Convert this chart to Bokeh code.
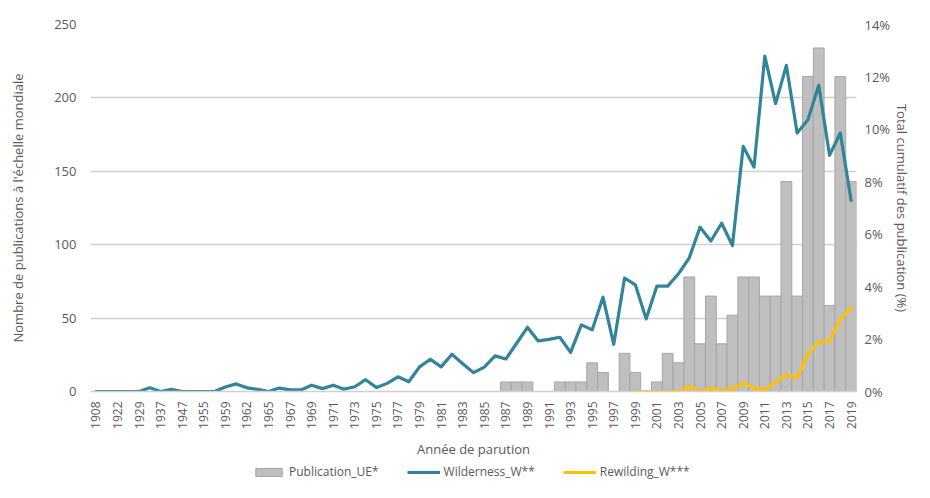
import math
from bokeh.plotting import figure
from bokeh.layouts import column
from bokeh.models import (Range1d, LinearAxis, FixedTicker, Legend, LegendItem,
                          PrintfTickFormatter)
from bokeh.embed import file_html
from bokeh.resources import INLINE

# ---------------- data ----------------
years = [1908, 1915, 1922, 1926, 1929, 1933, 1937, 1942, 1947, 1951,
         1955, 1957, 1959, 1960, 1962, 1964, 1965, 1966] + list(range(1967, 2020))

publication_ue = [0] * 38 + [
    6.5, 6.5, 6.5, 0, 0, 6.5, 6.5, 6.5, 19.5, 13,      # 1987-1996
    0, 26, 13, 0, 6.5, 26, 19.5, 78, 32.5, 65,         # 1997-2006
    32.5, 52, 78, 78, 65, 65, 143, 65, 214.5, 234,     # 2007-2016
    58.5, 214.5, 143]                                  # 2017-2019

wilderness_w = [
    0, 0, 0, 0, 0, 0.14, 0.0, 0.08, 0, 0,
    0, 0, 0.17, 0.29, 0.14, 0.08, 0.0, 0.13, 0.06, 0.06,
    0.24, 0.11, 0.24, 0.09, 0.18, 0.45, 0.15, 0.31, 0.56, 0.37,
    0.94, 1.23, 0.94, 1.42, 1.06, 0.72, 0.93, 1.36, 1.24, 1.84,
    2.45, 1.93, 1.99, 2.07, 1.49, 2.54, 2.35, 3.60, 1.80, 4.33,
    4.07, 2.77, 4.02, 4.02, 4.49, 5.10, 6.27, 5.74, 6.42, 5.57,
    9.35, 8.56, 12.79, 10.98, 12.44, 9.86, 10.37, 11.68, 9.01, 9.86,
    7.29]

nan = float("nan")
rewilding_w = [nan] * 50 + [
    0, 0, 0, 0, 0, 0.19, 0, 0.13, 0.03, 0.10,
    0.32, 0.13, 0.06, 0.36, 0.64, 0.52, 1.44, 1.88, 1.92, 2.77,
    3.19]

left_ticks = [0, 50, 100, 150, 200, 250]
right_ticks = [0, 2, 4, 6, 8, 10, 12, 14]
series_names = ["Publication_UE*", "Wilderness_W**", "Rewilding_W***"]

# ---------------- style ----------------
FONT = "Open Sans"
TXT = "#595959"
BAR_FILL, BAR_LINE = "#bfbfbf", "#a6a6a6"
BLUE, GOLD = "#31849b", "#ffc000"

idx = list(range(len(years)))

p = figure(width=914, height=462, output_backend="svg", toolbar_location=None,
           x_range=Range1d(-0.5, len(years) - 0.5), y_range=Range1d(0, 250),
           min_border_left=90, min_border_right=48, min_border_top=24,
           min_border_bottom=71)
p.outline_line_color = None
p.extra_y_ranges = {"pct": Range1d(0, 14)}

bar_x = [i for i, v in zip(idx, publication_ue) if v > 0]
bar_top = [v for v in publication_ue if v > 0]
p.vbar(x=bar_x, top=bar_top, width=1.0, bottom=0,
       fill_color=BAR_FILL, line_color=BAR_LINE, line_width=1)
p.line(idx, wilderness_w, y_range_name="pct", line_color=BLUE,
       line_width=3.2, line_join="round", line_cap="round")
p.line(idx, rewilding_w, y_range_name="pct", line_color=GOLD,
       line_width=3.2, line_join="round", line_cap="round")

# grid
p.xgrid.visible = False
p.ygrid.ticker = FixedTicker(ticks=left_ticks[1:])
p.ygrid.grid_line_color = "#d0d0d0"
p.ygrid.grid_line_width = 1.5

# x axis
xa = p.xaxis[0]
xa.ticker = FixedTicker(ticks=idx[::2])
xa.major_label_overrides = {i: str(years[i]) for i in idx[::2]}
xa.major_label_orientation = math.pi / 2
xa.axis_line_color = "#d0d0d0"
xa.axis_line_width = 1.5
xa.major_tick_line_color = None
xa.minor_tick_line_color = None
xa.major_tick_out = 0
xa.major_tick_in = 0
xa.major_label_standoff = 10
xa.major_label_text_font = FONT
xa.major_label_text_font_size = "12px"
xa.major_label_text_color = TXT
xa.axis_label = "Année de parution"
xa.axis_label_text_font = FONT
xa.axis_label_text_font_size = "13px"
xa.axis_label_text_font_style = "normal"
xa.axis_label_text_color = TXT
xa.axis_label_standoff = 8

# left axis
ya = p.yaxis[0]
ya.ticker = FixedTicker(ticks=left_ticks)
ya.axis_line_color = None
ya.major_tick_line_color = None
ya.minor_tick_line_color = None
ya.major_tick_out = 0
ya.major_tick_in = 0
ya.major_label_standoff = 14
ya.major_label_text_font = FONT
ya.major_label_text_font_size = "13px"
ya.major_label_text_color = TXT
ya.axis_label = "Nombre de publications à l'échelle mondiale"
ya.axis_label_text_font = FONT
ya.axis_label_text_font_size = "13px"
ya.axis_label_text_font_style = "normal"
ya.axis_label_text_color = TXT
ya.axis_label_standoff = 24

# right axis
ra = LinearAxis(y_range_name="pct", ticker=FixedTicker(ticks=right_ticks),
                formatter=PrintfTickFormatter(format="%d%%"))
ra.axis_line_color = None
ra.major_tick_line_color = None
ra.minor_tick_line_color = None
ra.major_tick_out = 0
ra.major_tick_in = 0
ra.major_label_standoff = 8
ra.major_label_text_font = FONT
ra.major_label_text_font_size = "13px"
ra.major_label_text_color = TXT
ra.axis_label = "Total cumulatif des publication (%)"
ra.axis_label_text_font = FONT
ra.axis_label_text_font_size = "13px"
ra.axis_label_text_font_style = "normal"
ra.axis_label_text_color = TXT
ra.axis_label_standoff = 0
p.add_layout(ra, "right")

# ---------------- legend strip ----------------
lg = figure(width=914, height=20, output_backend="svg", toolbar_location=None,
            x_range=Range1d(0, 1), y_range=Range1d(0, 1),
            x_axis_location=None, y_axis_location=None,
            min_border=0, outline_line_color=None)
lg.grid.visible = False
# legend-only swatches, placed outside the visible range
r1 = lg.vbar(x=[-5], top=[-5], bottom=[-6], width=1,
             fill_color=BAR_FILL, line_color=BAR_LINE)
r2 = lg.line(x=[-6, -5], y=[-5, -5], line_color=BLUE, line_width=3.2)
r3 = lg.line(x=[-6, -5], y=[-5, -5], line_color=GOLD, line_width=3.2)
legend = Legend(items=[LegendItem(label=series_names[0], renderers=[r1]),
                       LegendItem(label=series_names[1], renderers=[r2]),
                       LegendItem(label=series_names[2], renderers=[r3])],
                orientation="horizontal", location=(162, 2),
                glyph_width=33, glyph_height=10, label_standoff=4, spacing=28,
                padding=0, margin=0, label_height=14,
                label_text_font=FONT, label_text_font_size="12px",
                label_text_color=TXT, border_line_alpha=0,
                background_fill_alpha=0)
lg.add_layout(legend)

open("out.html", "w").write(file_html(column(p, lg, spacing=0), INLINE))
